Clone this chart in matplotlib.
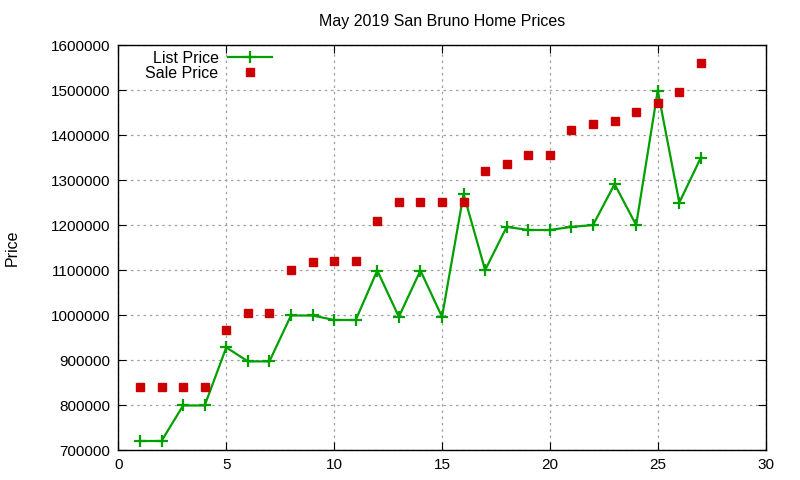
import matplotlib.pyplot as plt

plt.rcParams['font.family'] = ['Liberation Sans', 'DejaVu Sans']

days = list(range(1, 28))
list_price = [720000, 720000, 799000, 799000, 928000, 897000, 897000, 999000, 999000,
              989000, 989000, 1099000, 996000, 1099000, 996000, 1269000, 1100000, 1196000,
              1189000, 1189000, 1196000, 1200000, 1291000, 1200000, 1499000, 1250000, 1350000]
sale_price = [839000, 839000, 841000, 841000, 966000, 1005000, 1005000, 1101000, 1117000,
              1121000, 1121000, 1210000, 1251000, 1251000, 1251000, 1251000, 1320000, 1336000,
              1356000, 1356000, 1412000, 1425000, 1432000, 1452000, 1472000, 1496000, 1561000]

fig = plt.figure(figsize=(8, 4.8), dpi=100)
ax = fig.add_axes([0.148, 0.0625, 0.809, 0.8435])

ax.plot(days, list_price, color='#00a000', marker='+', markersize=9, markeredgewidth=1.6,
        linewidth=1.6, label='List Price')
ax.plot(days, sale_price, color='#cc0000', marker='s', markersize=6, linestyle='none',
        label='Sale Price')

ax.set_xlim(0, 30)
ax.set_ylim(700000, 1600000)
ax.set_xticks(range(0, 31, 5))
ax.set_yticks(range(700000, 1600001, 100000))
ax.ticklabel_format(style='plain', axis='y', useOffset=False)
ax.tick_params(direction='in', top=True, right=True, length=6, labelsize=11, pad=6)
ax.grid(True, linestyle=(0, (2, 3)), color='#a0a0a0', linewidth=0.9)
for s in ax.spines.values():
    s.set_linewidth(1)

ax.set_title('May 2019 San Bruno Home Prices', fontsize=11.5, pad=14)
ax.set_ylabel('Price', fontsize=11.5, labelpad=22)

ax.legend(loc='upper left', bbox_to_anchor=(0.027, 1.01), frameon=False, markerfirst=False,
          fontsize=11.5, handlelength=2.75, borderaxespad=0.2, labelspacing=0.0,
          handletextpad=0.6)

plt.savefig('out.png')
